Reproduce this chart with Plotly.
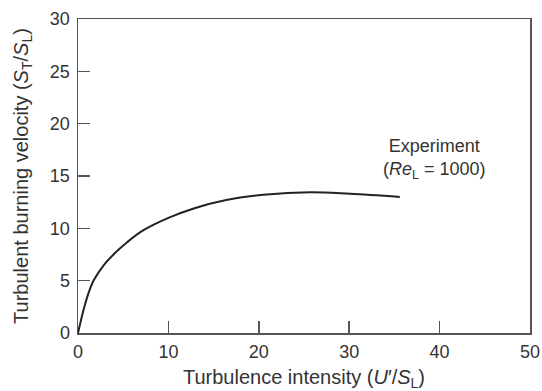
import plotly.graph_objects as go

# Data
turb_intensity = [0, 0.66, 1.22, 1.77, 2.88, 4.35, 5.4, 7.2, 10, 12.8, 16.4, 20.5, 25.7, 30.1, 35.6]
burning_velocity = [0, 2.37, 3.96, 5.08, 6.52, 7.85, 8.65, 9.8, 11.0, 11.9, 12.7, 13.2, 13.45, 13.3, 13.0]

x_ticks = [0, 10, 20, 30, 40, 50]
y_ticks = [0, 5, 10, 15, 20, 25, 30]

FONT = "Liberation Sans, Arial, sans-serif"
AX = "#555555"
TXT = "#333333"

fig = go.Figure()
fig.add_trace(go.Scatter(
    x=turb_intensity, y=burning_velocity, mode="lines",
    line=dict(color="#222222", width=2, shape="spline", smoothing=1.0),
    showlegend=False, hoverinfo="skip",
))

fig.add_annotation(
    x=39.4, y=16.6, xref="x", yref="y",
    text="Experiment<br>(<i>Re</i><sub>L</sub> = 1000)",
    showarrow=False, xanchor="center", yanchor="middle",
    font=dict(family=FONT, size=18, color=TXT),
)

axis_common = dict(
    showgrid=False, zeroline=False, showline=True, linecolor=AX, linewidth=1.5,
    mirror=True, ticks="inside", ticklen=12, tickwidth=1.5, tickcolor=AX,
    tickfont=dict(family=FONT, size=18, color=TXT), automargin=False,
)

fig.update_layout(
    width=542, height=391,
    margin=dict(l=78, r=12, t=19, b=58),
    paper_bgcolor="white", plot_bgcolor="white",
    xaxis=dict(range=[0, 50], tickvals=x_ticks, ticklabelstandoff=2,
               title=dict(text="Turbulence intensity (<i>U</i>′/<i>S</i><sub>L</sub>)",
                          font=dict(family=FONT, size=20, color=TXT), standoff=20),
               **axis_common),
    yaxis=dict(range=[0, 30], tickvals=y_ticks, ticklabelstandoff=3,
               title=dict(text="Turbulent burning velocity (<i>S</i><sub>T</sub>/<i>S</i><sub>L</sub>)",
                          font=dict(family=FONT, size=20, color=TXT), standoff=16),
               **axis_common),
)

# Remove the default page margin so the figure fills the window exactly.
fig.write_html(
    "out.html",
    config={"displayModeBar": False, "staticPlot": True},
    post_script="document.body.style.margin='0';document.body.style.overflow='hidden';",
)
